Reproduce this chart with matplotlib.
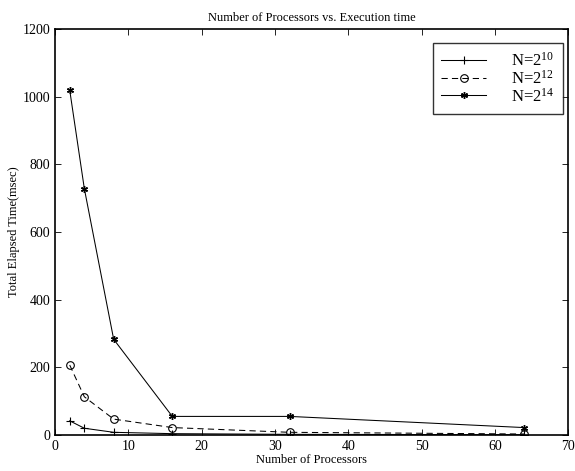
import matplotlib
matplotlib.use("Agg")
import matplotlib.pyplot as plt

procs = [2, 4, 8, 16, 32, 64]
t_n10 = [42, 20, 8, 4, 2, 1]
t_n12 = [207, 113, 47, 22, 8, 3]
t_n14 = [1020, 728, 283, 55, 55, 22]
labels = [r"N=2$^{10}$", r"N=2$^{12}$", r"N=2$^{14}$"]

plt.rcParams['font.family'] = ['Liberation Serif', 'DejaVu Serif']
plt.rcParams['mathtext.fontset'] = 'custom'
plt.rcParams['mathtext.rm'] = 'Liberation Serif'
plt.rcParams['mathtext.it'] = 'Liberation Serif:italic'

fig = plt.figure(figsize=(5.75, 4.71), dpi=100)
ax = fig.add_axes([0.0957, 0.0764, 0.8923, 0.862])

ax.plot(procs, t_n10, color='black', lw=0.75, marker='+', ms=6, mew=0.8, label=labels[0])
ax.plot(procs, t_n12, color='black', lw=0.75, ls=(0, (6, 4)), marker='o', ms=5.5,
        mfc='none', mew=0.8, label=labels[1])
ax.plot(procs, t_n14, color='black', lw=0.75, marker=(6, 2, 0), ms=5, mew=1.0, label=labels[2])

ax.set_xlim(0, 70)
ax.set_ylim(0, 1200)
ax.set_xticks(range(0, 71, 10))
ax.set_yticks(range(0, 1201, 200))
ax.tick_params(direction='in', top=True, right=True, labelsize=10, length=4, width=0.6)
for s in ax.spines.values():
    s.set_linewidth(1.2)

ax.set_title("Number of Processors vs. Execution time", fontsize=9, pad=6)
ax.set_xlabel("Number of Processors", fontsize=9, labelpad=1)
ax.set_ylabel("Total Elapsed Time(msec)", fontsize=9, labelpad=2)

leg = ax.legend(loc='upper right', fontsize=12, frameon=True, fancybox=False,
                edgecolor='black', handlelength=2.7, borderpad=0.5,
                labelspacing=0.0, handletextpad=1.5,
                bbox_to_anchor=(0.99, 0.965), borderaxespad=0.0)
leg.get_frame().set_linewidth(1.0)

fig.savefig("out.png", dpi=100)
